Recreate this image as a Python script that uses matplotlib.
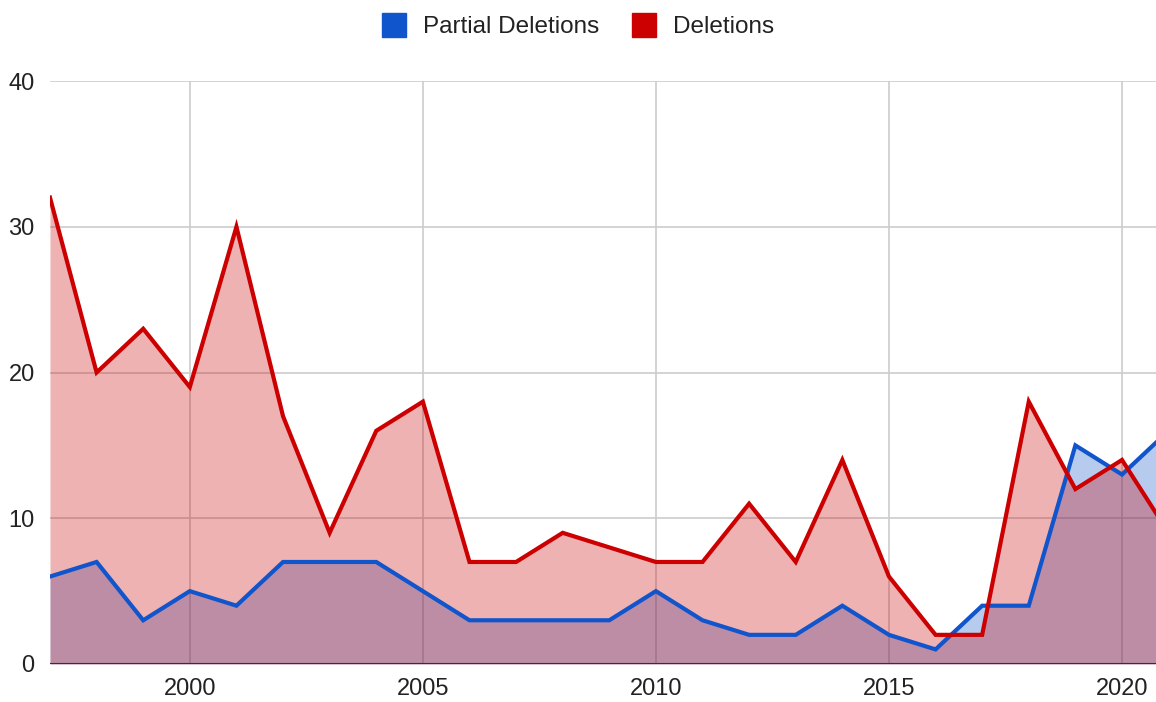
import matplotlib
matplotlib.use("Agg")
import matplotlib.pyplot as plt
from matplotlib.lines import Line2D

years = list(range(1997, 2022))
partial = [6, 7, 3, 5, 4, 7, 7, 7, 5, 3, 3, 3, 3, 5, 3, 2, 2, 4, 2, 1, 4, 4, 15, 13, 16]
deletions = [32, 20, 23, 19, 30, 17, 9, 16, 18, 7, 7, 9, 8, 7, 7, 11, 7, 14, 6, 2, 2, 18, 12, 14, 9]
series_names = ["Partial Deletions", "Deletions"]
colors = ["#1155CC", "#CC0000"]
xticks = [2000, 2005, 2010, 2015, 2020]
yticks = [0, 10, 20, 30, 40]

plt.rcParams['font.family'] = ['Liberation Sans', 'DejaVu Sans']

fig = plt.figure(figsize=(11.56, 7.02), dpi=100)
ax = fig.add_axes([50/1156, 38/702, 1 - 50/1156, (664-81)/702])

for vals, c in zip([partial, deletions], colors):
    ax.fill_between(years, 0, vals, color=c, alpha=0.3, linewidth=0, zorder=2)
for vals, c in zip([partial, deletions], colors):
    ax.plot(years, vals, color=c, linewidth=3, zorder=3, solid_joinstyle='miter')

ax.set_xlim(1997, 2020 + 34/46.6)
ax.set_ylim(0, 40)
ax.set_xticks(xticks)
ax.set_yticks(yticks)
ax.grid(True, color="#CCCCCC", linewidth=1.2, zorder=1)
ax.set_axisbelow(True)
for s in ax.spines.values():
    s.set_visible(False)
ax.axhline(0, color="#333333", linewidth=1.5, zorder=4)
ax.tick_params(axis='both', length=0, labelsize=17, colors="#222222")
ax.tick_params(axis='y', pad=11)
ax.tick_params(axis='x', pad=10)

handles = [Line2D([0], [0], marker='s', linestyle='none', markersize=17,
                  markerfacecolor=c, markeredgecolor=c) for c in colors]
fig.legend(handles, series_names, loc='center', bbox_to_anchor=(0.5, 1 - 27/702),
           ncol=2, frameon=False, fontsize=17.5, handletextpad=0.7, columnspacing=1.36,
           handlelength=1.0, labelcolor="#222222")

fig.savefig("out.png", dpi=100)
